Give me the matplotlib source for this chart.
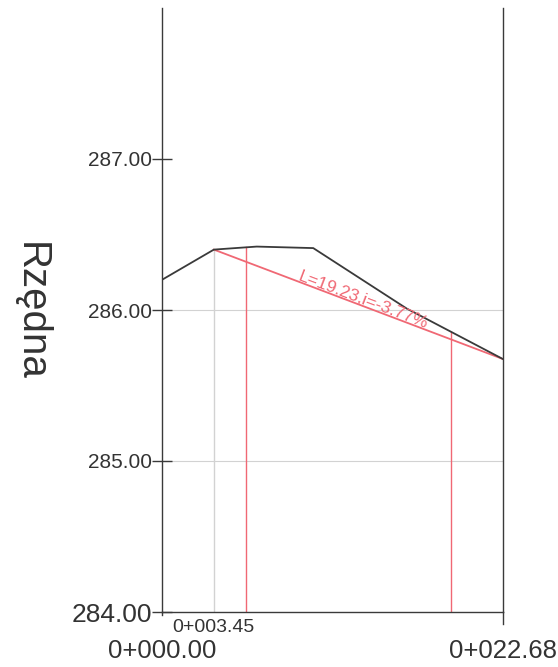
import matplotlib
matplotlib.use("Agg")
import matplotlib.pyplot as plt
import numpy as np

plt.rcParams['font.family'] = ['Liberation Sans', 'DejaVu Sans']

# Terrain profile (chainage, elevation)
terrain_x = [0.00, 3.45, 6.30, 10.06, 16.27, 22.68]
terrain_y = [286.20, 286.40, 286.42, 286.41, 286.01, 285.675]

# Grade line
grade_x = [3.45, 22.68]
grade_y = [286.40, 285.675]
grade_label = "L=19.23,i=-3.77%"

# Red vertical marker chainages
red_marks = [5.58, 19.25]
gray_marks = [3.45]

y_ticks = [284, 285, 286, 287]
y_labels = ["284.00", "285.00", "286.00", "287.00"]
grid_levels = [285, 286]
x_ticks = [0.00, 22.68]
x_labels = ["0+000.00", "0+022.68"]
x_small_ticks = [3.45]
x_small_labels = ["0+003.45"]

black = '#3a3a3a'
red = '#f06874'
gray = '#d2d2d2'

fig = plt.figure(figsize=(5.58, 6.67), dpi=100)
ax = fig.add_axes([162/558, 1 - 612/667, 341/558, 604/667])
ax.set_xlim(0, 22.68)
ax.set_ylim(284, 288)

ax.spines['top'].set_visible(False)
for s in ['left', 'right', 'bottom']:
    ax.spines[s].set_color(black)
    ax.spines[s].set_linewidth(1.0)

# grid lines
for g in grid_levels:
    ax.axhline(g, color=gray, lw=0.8, zorder=1)

# gray vertical marks up to terrain
for gx in gray_marks:
    ty = np.interp(gx, terrain_x, terrain_y)
    ax.plot([gx, gx], [284, ty], color=gray, lw=1.0, zorder=1)

# red vertical marks up to terrain
for rx in red_marks:
    ty = np.interp(rx, terrain_x, terrain_y)
    ax.plot([rx, rx], [284, ty], color=red, lw=1.0, zorder=2)

ax.plot(grade_x, grade_y, color=red, lw=1.3, zorder=3)
ax.plot(terrain_x, terrain_y, color=black, lw=1.3, zorder=4)

# grade label along the line
p0 = ax.transData.transform((grade_x[0], grade_y[0]))
p1 = ax.transData.transform((grade_x[1], grade_y[1]))
ang = np.degrees(np.arctan2(p1[1] - p0[1], p1[0] - p0[0]))
frac = 0.51
mx = grade_x[0] + frac * (grade_x[1] - grade_x[0])
my = grade_y[0] + frac * (grade_y[1] - grade_y[0])
ax.annotate(grade_label, (mx, my), xytext=(0, 0.5), textcoords='offset points',
            rotation=ang, rotation_mode='anchor', ha='center', va='baseline',
            color=red, fontsize=12.5, zorder=5)

# y ticks
ax.set_yticks(y_ticks)
ax.set_yticklabels(y_labels)
ax.tick_params(axis='y', direction='inout', length=14, width=1.0, color=black,
               labelsize=15, pad=0, labelcolor='#333333')
for lab in ax.get_yticklabels():
    if lab.get_text() == "284.00":
        lab.set_fontsize(19)

# x ticks (labels drawn as text)
ax.set_xticks([])
for xv, xl in zip(x_ticks, x_labels):
    ax.annotate(xl, (xv, 284), xytext=(0, -28), textcoords='offset points',
                ha='center', va='center', fontsize=18.5, color='#333333',
                annotation_clip=False)
for xv, xl in zip(x_small_ticks, x_small_labels):
    ax.annotate(xl, (xv, 284), xytext=(0, -11.5), textcoords='offset points',
                ha='center', va='center', fontsize=14, color='#333333',
                annotation_clip=False)

# spine extensions below the axis
ax.plot([22.68, 22.68], [284, 283.92], color=black, lw=1.0, clip_on=False)
ax.plot([0, 0], [284, 283.98], color=black, lw=1.0, clip_on=False)

fig.text(31/558, 1 - 311/667, "Rzędna", rotation=-90, ha='center', va='center',
         fontsize=29, color='#333333')

fig.savefig("out.png", dpi=100, facecolor='white')
